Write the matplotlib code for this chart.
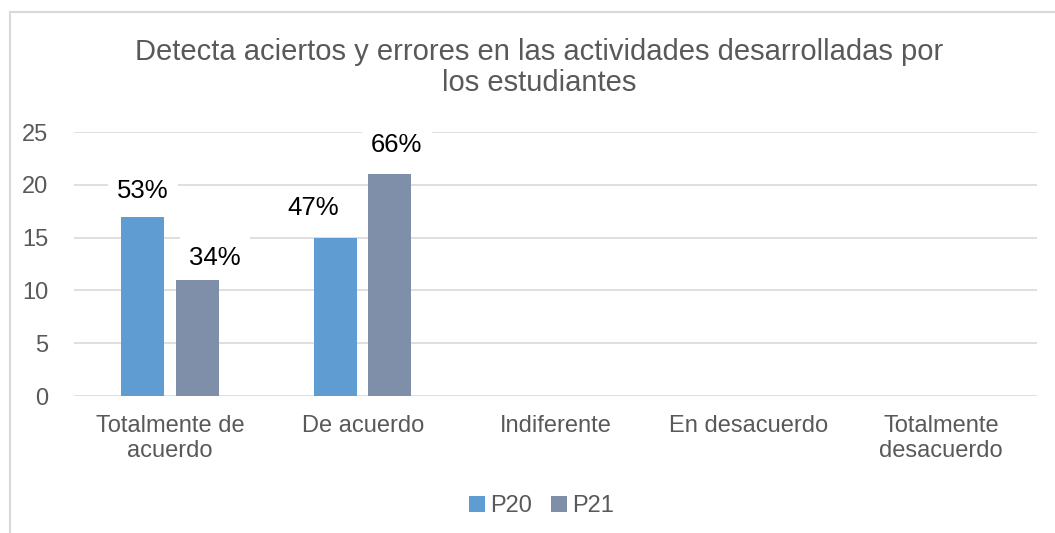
import matplotlib
matplotlib.use('Agg')
import matplotlib.pyplot as plt
from matplotlib.lines import Line2D
import numpy as np

plt.rcParams['font.family'] = ['Liberation Sans', 'DejaVu Sans']

categories = ['Totalmente de\nacuerdo', 'De acuerdo', 'Indiferente',
              'En desacuerdo', 'Totalmente\ndesacuerdo']
p20 = [17, 15, 0, 0, 0]
p21 = [11, 21, 0, 0, 0]
p20_labels = ['53%', '47%']
p21_labels = ['34%', '66%']

title = 'Detecta aciertos y errores en las actividades desarrolladas por\nlos estudiantes'

c20 = '#5f9cd2'
c21 = '#7f8fa9'
grey = '#595959'
grid = '#d9d9d9'

fig = plt.figure(figsize=(10.55, 5.33), dpi=100)
ax = fig.add_axes([0.0697, 0.257, 0.9137, 0.4953])

x = np.arange(len(categories))
w = 0.223
off = 0.141
b1 = ax.bar(x - off, p20, w, color=c20, label='P20', zorder=3)
b2 = ax.bar(x + off, p21, w, color=c21, label='P21', zorder=3)

ax.set_xlim(-0.5, len(categories) - 0.5)
ax.set_ylim(0, 25)
ax.set_yticks(range(0, 26, 5))
ax.yaxis.grid(True, color=grid, linewidth=1.2, zorder=0)
ax.set_axisbelow(True)
for s in ax.spines.values():
    s.set_visible(False)
ax.tick_params(axis='both', length=0, labelsize=17, labelcolor=grey)
ax.tick_params(axis='y', pad=18)
ax.tick_params(axis='x', pad=14)
ax.set_xticks(x)
ax.set_xticklabels(categories, linespacing=1.15)

# data labels (moved by hand a little, like in the original)
shifts20 = [(0, 14), (-22, 18)]
shifts21 = [(18, 10), (7, 17)]
for i, lab in enumerate(p20_labels):
    ax.annotate(lab, (x[i] - off, p20[i]), xytext=shifts20[i], textcoords='offset pixels',
                ha='center', va='bottom', fontsize=18.5, color='black', zorder=4,
                bbox=dict(boxstyle='square,pad=0.35', fc='white', ec='none'))
for i, lab in enumerate(p21_labels):
    ax.annotate(lab, (x[i] + off, p21[i]), xytext=shifts21[i], textcoords='offset pixels',
                ha='center', va='bottom', fontsize=18.5, color='black', zorder=4,
                bbox=dict(boxstyle='square,pad=0.35', fc='white', ec='none'))

fig.text(0.511, 0.929, title, ha='center', va='top', fontsize=21, color=grey,
         linespacing=1.15)

fig.legend(handles=[b1, b2], loc='center', bbox_to_anchor=(0.513, 0.05), ncol=2,
           frameon=False, fontsize=17, labelcolor=grey, handlelength=0.7,
           handleheight=0.7, handletextpad=0.2, columnspacing=0.8)

# chart border (only left and top are inside the picture)
fig.add_artist(Line2D([10 / 1055, 10 / 1055], [0, 1 - 12 / 533], color=grid, lw=1.5))
fig.add_artist(Line2D([10 / 1055, 1], [1 - 12 / 533, 1 - 12 / 533], color=grid, lw=1.5))

fig.savefig('out.png', dpi=100, facecolor='white')
